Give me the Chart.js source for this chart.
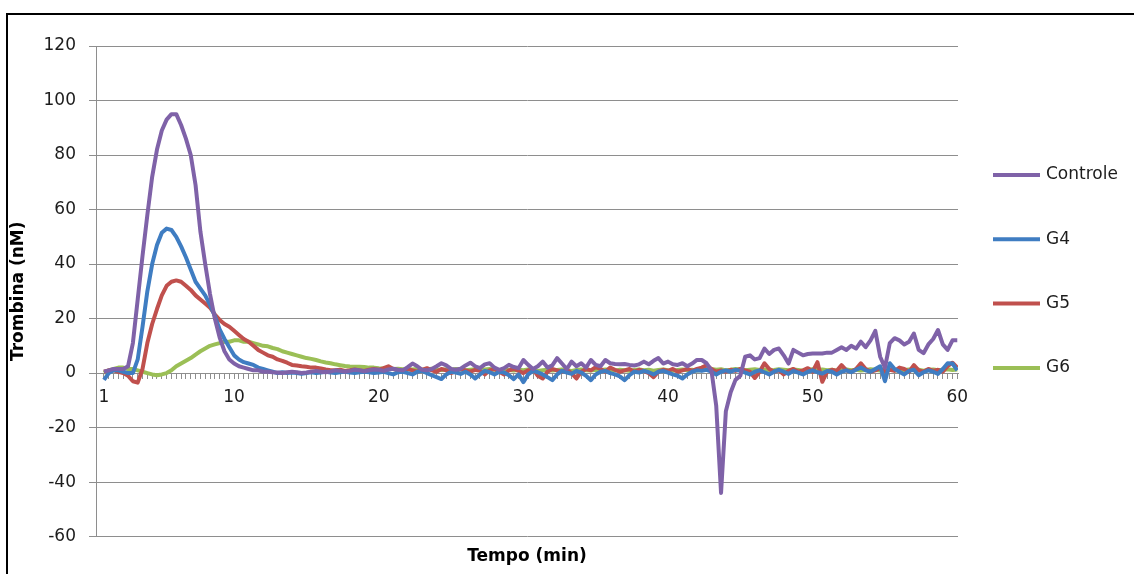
<!DOCTYPE html>
<html>
<head>
<meta charset="utf-8">
<script src="https://cdn.jsdelivr.net/npm/chart.js@4.4.1/dist/chart.umd.min.js"></script>
<style>
  html, body { margin: 0; padding: 0; background: #fff; overflow: hidden; }
  #wrap { position: relative; width: 1134px; height: 574px; }
  #frame { position: absolute; left: 6px; top: 13px; width: 1140px; height: 600px;
           border-top: 2px solid #000; border-left: 2px solid #000; pointer-events: none; }
</style>
</head>
<body>
<div id="wrap">
  <canvas id="thrombinChart" width="1134" height="574"></canvas>
  <div id="frame"></div>
</div>
<script>
// sampling times (seconds), one reading every 20 s
const seconds = [
  60, 80, 100, 120, 140, 160, 180, 200, 220, 240, 260, 280, 300, 320, 340,
  360, 380, 400, 420, 440, 460, 480, 500, 520, 540, 560, 580, 600, 620, 640,
  660, 680, 700, 720, 740, 760, 780, 800, 820, 840, 860, 880, 900, 920, 940,
  960, 980, 1000, 1020, 1040, 1060, 1080, 1100, 1120, 1140, 1160, 1180, 1200, 1220, 1240,
  1260, 1280, 1300, 1320, 1340, 1360, 1380, 1400, 1420, 1440, 1460, 1480, 1500, 1520, 1540,
  1560, 1580, 1600, 1620, 1640, 1660, 1680, 1700, 1720, 1740, 1760, 1780, 1800, 1820, 1840,
  1860, 1880, 1900, 1920, 1940, 1960, 1980, 2000, 2020, 2040, 2060, 2080, 2100, 2120, 2140,
  2160, 2180, 2200, 2220, 2240, 2260, 2280, 2300, 2320, 2340, 2360, 2380, 2400, 2420, 2440,
  2460, 2480, 2500, 2520, 2540, 2560, 2580, 2600, 2620, 2640, 2660, 2680, 2700, 2720, 2740,
  2760, 2780, 2800, 2820, 2840, 2860, 2880, 2900, 2920, 2940, 2960, 2980, 3000, 3020, 3040,
  3060, 3080, 3100, 3120, 3140, 3160, 3180, 3200, 3220, 3240, 3260, 3280, 3300, 3320, 3340,
  3360, 3380, 3400, 3420, 3440, 3460, 3480, 3500, 3520, 3540, 3560, 3580, 3600
];

// thrombin generation, nM
const controle = [
  0.5, 1, 1.5, 1.5, 1.5, 2.5, 11, 27, 43, 58,
  72, 82, 89, 93, 95, 95, 91, 86, 80, 69,
  52, 40, 29, 20, 13, 8, 5, 3.5, 2.5, 2,
  1.5, 1, 1, 0.5, 0.5, 0.3, 0.2, 0, 0.3, 0.5,
  0.3, 0, 0.2, 0.5, 0.8, 0.5, 0.3, 0.6, 1, 0.8,
  0.5, 0.8, 1.2, 1, 0.7, 1, 1.3, 1.2, 0.8, 1.3,
  1.6, 1.2, 1, 2.2, 3.5, 2.5, 1.2, 1, 1.5, 2.5,
  3.6, 2.8, 1.5, 1.2, 1.6, 2.8, 3.8, 2.5, 1.8, 3.2,
  3.6, 2, 1.2, 1.8, 3, 2.2, 1.8, 4.8, 3, 1.5,
  2.5, 4.2, 2, 2.8, 5.5, 3.5, 1.5, 4.2, 2.5, 3.6,
  2, 4.8, 3, 2.5, 4.8, 3.6, 3.3, 3.2, 3.3, 3,
  2.8, 3.2, 4.2, 3.2, 4.5, 5.5, 3.5, 4.2, 3.2, 3,
  3.6, 2.5, 3.5, 4.8, 4.8, 3.6, 1, -12, -44, -14,
  -7, -2.5, -1, 6, 6.5, 5, 5.5, 9, 7, 8.5,
  9, 6.5, 3.5, 8.5, 7.5, 6.5, 7, 7.2, 7.2, 7.2,
  7.5, 7.5, 8.5, 9.5, 8.5, 10, 9, 11.5, 9.5, 12,
  15.5, 6, 2, 11, 12.8, 12, 10.5, 11.5, 14.5, 8.5,
  7.3, 10.5, 12.5, 15.8, 10.5, 8.5, 12, 12
];

const g4 = [
  -2.5, 0, 1, 1, 0.5, 0, 0, 5, 17, 30,
  40, 47, 51.5, 53, 52.5, 50, 46.5, 42.5, 38, 33.5,
  31, 28.5, 25, 21, 16, 12.5, 9.5, 6.5, 5, 4,
  3.5, 3, 2, 1.5, 1, 0.5, 0, 0.3, 0, 0.2,
  0, -0.3, 0, 0.3, 0, 0.2, 0.5, 0.2, 0, 0.3,
  0.5, 0.2, 0, 0.3, 0.5, 0.3, 0, 0.2, 0.5, 0,
  -0.5, 0.3, 0.5, 0, -0.5, 0.5, 0.8, 0, -0.8, -1.5,
  -2.2, -0.5, 0.5, 0.2, -0.3, 0.5, -0.5, -2, -0.5, 0.8,
  0.3, -0.5, 0.5, 0.2, -0.8, -2.2, -0.5, -3.3, -0.5, 0.8,
  0.3, -0.5, -1.5, -2.6, -0.5, 0.8, 0.2, -0.3, 0.8, 0.2,
  -1, -2.6, -0.5, 0.5, 0.8, 0, -0.5, -1.2, -2.6, -0.8,
  0.5, 0.2, 0.8, 0.3, -0.5, 0.5, 0.8, 0.2, -0.5, -1,
  -2, -0.5, 0.5, 1, 0.8, 1.2, 0.5, -0.5, 0.5, 1,
  0.5, 1.2, 0.8, 0.2, -0.5, 0.5, 1, 0.3, -0.5, 0.5,
  1.2, 0.5, -0.3, 0.8, 0.2, -0.5, 0.5, 1, 0.3, -0.2,
  0.8, 0.5, -0.5, 0.5, 1, 0.3, 1.2, 2, 1, 0.5,
  1.5, 2.5, -3, 3.6, 1.5, 0.5, -0.5, 0.8, 1.2, -0.8,
  0.3, 1, 0.5, -0.3, 1.5, 3.6, 3.5, 1
];

const g5 = [
  0.5, 1, 1, 0.5, 0, -1, -3, -3.5, 1.5, 11,
  18, 23.5, 28.5, 32, 33.5, 34, 33.5, 32, 30.5, 28.5,
  27, 25.5, 24, 21.5, 19.5, 18, 17, 15.5, 14, 12.5,
  11.5, 10, 8.5, 7.5, 6.5, 6, 5, 4.5, 3.8, 3,
  2.8, 2.5, 2.3, 2, 2, 1.7, 1.3, 1, 1, 1.2,
  0.8, 1, 1.3, 1, 0.8, 1.2, 1.5, 1.2, 1.8, 2.5,
  1.5, 1, 0.8, 1.5, 1, 0.5, 1.2, 1.8, 1, 0.5,
  1.5, 1, 0, 0.8, 1.5, 1, 0.5, 1.2, 0.8, -0.5,
  1, 1.5, 0.5, -0.5, 1, 1.5, 0.8, 0, 1, 1.5,
  -1, -2, 0.5, 1.5, 1, 0.5, 1.2, 0, -2, 0.5,
  1.5, 1, 2.2, 1.5, 0.5, 2, 1.2, 0.5, 1, 1.5,
  0.5, 1.2, 0.8, 0, -1.5, 0.5, 1.2, 0.8, 1.5, 0.5,
  1, 1.5, 0.8, 1.5, 2, 2.9, 1.5, 0.5, 1, 0.5,
  1.2, 0.8, 1.5, 1, 0.5, -1.8, 0.5, 3.6, 1.5, 0.5,
  1, -0.5, 0.8, 1.5, 0.5, 1, 1.8, 0.5, 4, -3.2,
  0.5, 1.2, 0.8, 2.9, 1, 0.5, 1.5, 3.6, 1.5, 0.5,
  1, 1.8, 0.5, 1.2, 0.8, 2, 1.5, 0.5, 2.9, 1,
  0.5, 1.5, 0.8, 1.2, 0.5, 2.5, 3.8, 2
];

const g6 = [
  0, 1, 1.5, 2, 2, 1.5, 1.5, 1, 0.5, 0,
  -0.5, -0.8, -0.5, 0, 1, 2.5, 3.5, 4.5, 5.5, 6.8,
  8, 9, 10, 10.5, 11, 11.5, 11.5, 12, 12, 11.5,
  11.5, 11, 10.5, 10, 9.8, 9.2, 8.8, 8, 7.5, 7,
  6.5, 6, 5.5, 5.2, 4.8, 4.3, 3.9, 3.6, 3.2, 2.9,
  2.6, 2.4, 2.3, 2.3, 2.2, 2, 2, 1.8, 1.7, 1.6,
  1.5, 1.6, 1.4, 1.5, 1.3, 1.5, 1.2, 1.4, 1.6, 1.3,
  1.1, 1.4, 1.2, 1.5, 1.3, 1, 1.2, 1.4, 1.1, 1.3,
  1.5, 1.2, 1, 1.3, 1.1, 0.9, 1.2, 1, 1.3, 1.1,
  0.8, 1, 1.2, 0.9, 1.1, 1.3, 1, 0.8, 1.1, 1.3,
  1, 0.9, 1.2, 1, 1.3, 1.1, 0.9, 1.2, 1, 0.8,
  1.1, 1.3, 1, 1.2, 0.9, 1.1, 1.3, 1, 0.8, 1.1,
  1.3, 1, 1.2, 0.9, 1.1, 1.3, 1.5, 1.2, 1.4, 1,
  1.2, 1.5, 1.3, 1, 1.2, 1.4, 1.1, 1.3, 0.9, 1.1,
  1.4, 1.2, 1, 1.3, 1.1, 0.9, 1.2, 1.4, 1.1, 1.3,
  1, 1.2, 0.9, 1.1, 1.3, 1, 1.2, 0.9, 1.1, 1.4,
  1.2, 0.9, 1.1, 1.3, 1, 0.8, 1.1, 1.3, 1, 1.2,
  0.9, 1.1, 1.3, 1, 1.2, 1.4, 1.1, 1.3
];

const seriesNames = ['Controle', 'G4', 'G5', 'G6'];
const seriesColors = ['#7f62a8', '#3f7dc2', '#c0504d', '#9bbf56'];
const xTickLabels = [1, 10, 20, 30, 40, 50, 60];
const yTicks = [-60, -40, -20, 0, 20, 40, 60, 80, 100, 120];

const minutes = seconds.map(s => s / 60);
const gridGray = '#8e8e8e';
const textColor = '#1c1c1c';

Chart.defaults.font.family = '"DejaVu Sans", Verdana, sans-serif';
Chart.defaults.font.size = 17;
Chart.defaults.color = textColor;

// right-hand legend: short line sample followed by the series name
const sideLegend = {
  id: 'sideLegend',
  afterDraw(chart) {
    const ctx = chart.ctx;
    ctx.save();
    ctx.font = '17px "DejaVu Sans", Verdana, sans-serif';
    ctx.textBaseline = 'middle';
    chart.data.datasets.forEach((ds, i) => {
      const y = 175 + i * 64.3;
      ctx.strokeStyle = ds.borderColor;
      ctx.lineWidth = ds.borderWidth;
      ctx.lineCap = 'butt';
      ctx.beginPath();
      ctx.moveTo(993, y);
      ctx.lineTo(1040, y);
      ctx.stroke();
      ctx.fillStyle = textColor;
      ctx.fillText(ds.label, 1046, y);
    });
    ctx.restore();
  }
};

const series = [controle, g4, g5, g6];
const datasets = series.map((vals, i) => ({
  label: seriesNames[i],
  data: vals.map((v, k) => ({ x: minutes[k], y: v })),
  borderColor: seriesColors[i],
  backgroundColor: seriesColors[i],
  borderWidth: 4,
  pointRadius: 0,
  tension: 0,
  borderJoinStyle: 'round',
  fill: false
}));

const xMin = 0.45;
const xMax = 60.05;

new Chart(document.getElementById('thrombinChart'), {
  type: 'line',
  data: { datasets },
  plugins: [sideLegend],
  options: {
    responsive: false,
    animation: false,
    devicePixelRatio: 1,
    layout: { padding: { left: 0, top: 46, right: 176, bottom: 0 } },
    plugins: {
      legend: { display: false },
      tooltip: { enabled: false }
    },
    scales: {
      x: {
        type: 'linear',
        position: 'bottom',
        min: xMin,
        max: xMax,
        ticks: { display: false },
        grid: { display: false, drawTicks: false },
        border: { display: false },
        title: {
          display: true,
          text: 'Tempo (min)',
          color: '#000',
          font: { size: 17, weight: 'bold' },
          padding: { top: 10, bottom: 7 }
        }
      },
      // axis line crossing at zero, with a tick for every reading
      xZero: {
        type: 'linear',
        position: { y: 0 },
        min: xMin,
        max: xMax,
        afterBuildTicks: scale => {
          scale.ticks = minutes.map(v => ({ value: v }));
        },
        ticks: {
          autoSkip: false,
          maxRotation: 0,
          minRotation: 0,
          padding: 9,
          callback: v => (xTickLabels.includes(v) ? String(v) : '')
        },
        grid: { drawOnChartArea: false, drawTicks: true, tickLength: 5, color: gridGray },
        border: { color: gridGray, width: 1 }
      },
      y: {
        min: -60,
        max: 120,
        afterBuildTicks: scale => {
          scale.ticks = yTicks.map(v => ({ value: v }));
        },
        afterFit: scale => { scale.width = 96; },
        ticks: { padding: 13 },
        grid: { color: gridGray, tickLength: 7 },
        border: { color: gridGray },
        title: {
          display: true,
          text: 'Trombina (nM)',
          color: '#000',
          font: { size: 17, weight: 'bold' },
          padding: { top: 8, bottom: 0 }
        }
      }
    }
  }
});
</script>
</body>
</html>
